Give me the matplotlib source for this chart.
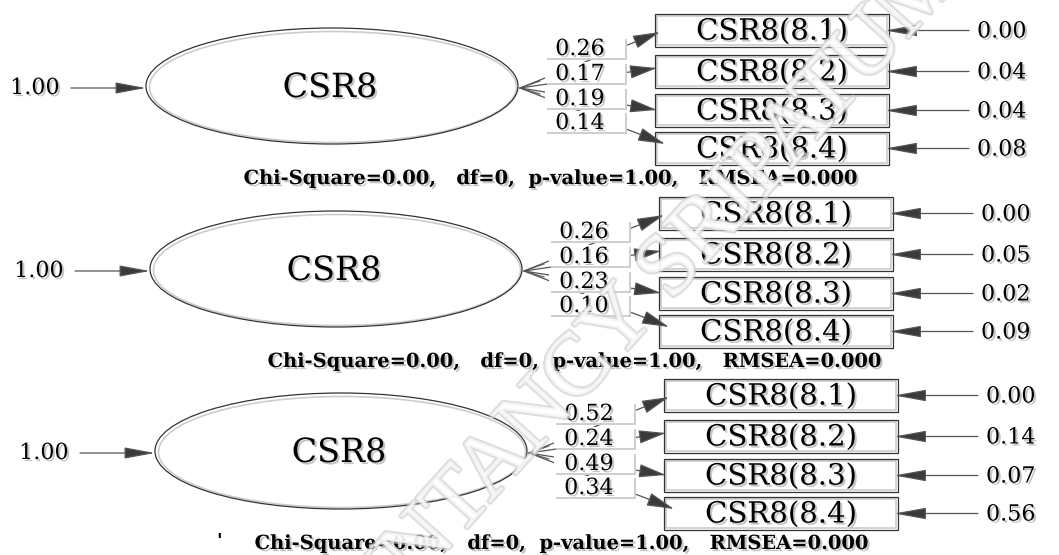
import matplotlib
matplotlib.use('Agg')
import matplotlib.pyplot as plt
import matplotlib.patheffects as pe
from matplotlib.patches import Ellipse, Rectangle, FancyArrowPatch

# values
latent = 'CSR8'
items = ['CSR8(8.1)', 'CSR8(8.2)', 'CSR8(8.3)', 'CSR8(8.4)']
latent_var = [1.00, 1.00, 1.00]
loadings_1 = [0.26, 0.17, 0.19, 0.14]
loadings_2 = [0.26, 0.16, 0.23, 0.10]
loadings_3 = [0.52, 0.24, 0.49, 0.34]
errors_1 = [0.00, 0.04, 0.04, 0.08]
errors_2 = [0.00, 0.05, 0.02, 0.09]
errors_3 = [0.00, 0.14, 0.07, 0.56]
fit_text = 'Chi-Square=0.00,   df=0,  p-value=1.00,   RMSEA=0.000'
watermark = 'ACCOUNTANCY SRIPATUM'

loadings = [loadings_1, loadings_2, loadings_3]
errors = [errors_1, errors_2, errors_3]

# layout in pixels (panel 1), shifted for the other panels
panel_dy = [0, 183, 365]
panel_dx = [0, 4, 9]
chi_x = [551, 575, 562]
ell_cx, ell_cy, ell_w, ell_h = 332, 86, 372, 116
box_x, box_w, box_h = 655, 234, 33
box_tops = [14, 55, 94, 132]
tip_dx = [5, 2, 2, 10]
tip_y = [32, 68, 110, 144]
lab_x = 580
lab_y = [49, 74, 99, 123]

serif = 'DejaVu Serif'
line_c = '#555555'
head_c = '#3a3a3a'
shadow = [pe.SimplePatchShadow(offset=(1.5, -1.5), shadow_rgbFace='#c4c4c4', alpha=1), pe.Normal()]

fig = plt.figure(figsize=(10.59, 5.55), dpi=100)
ax = fig.add_axes([0, 0, 1, 1])
ax.set_xlim(0, 1059)
ax.set_ylim(555, 0)
ax.axis('off')


def arrow(x0, y0, x1, y1, hl=1.8, hw=0.4, z=2):
    a = FancyArrowPatch((x0, y0), (x1, y1),
                        arrowstyle='-|>,head_length={},head_width={}'.format(hl, hw),
                        mutation_scale=10, shrinkA=0, shrinkB=0,
                        color=line_c, lw=0.9, zorder=z)
    a.set_facecolor(head_c)
    ax.add_patch(a)


for p in range(3):
    dx, dy = panel_dx[p], panel_dy[p]
    cx, cy = ell_cx + dx, ell_cy + dy
    left, right = cx - ell_w / 2, cx + ell_w / 2

    # latent variable
    ax.add_patch(Ellipse((cx + 1, cy + 1), ell_w - 5, ell_h - 5, fill=False, ec='#cccccc', lw=1.2))
    ax.add_patch(Ellipse((cx, cy), ell_w, ell_h, fill=False, ec='#333333', lw=0.9))
    ax.text(cx - 2, cy + 2, latent, fontsize=24, family=serif, ha='center', va='center', path_effects=shadow)
    ax.text(left - 111, cy + 2, '%.2f' % latent_var[p], fontsize=16, family=serif,
            ha='center', va='center', path_effects=shadow)
    arrow(left - 75, cy + 2, left, cy + 2, hl=1.9, hw=0.35)

    # small open head at the ellipse
    ax.plot([right + 22, right + 2, right + 22], [cy - 5, cy + 2, cy + 8], color=line_c, lw=0.8)

    for i in range(4):
        top = box_tops[i] + dy
        bx = box_x + dx
        yc = top + box_h / 2
        ax.add_patch(Rectangle((bx + 2, top + 2), box_w - 4, box_h - 4, fill=False, ec='#cccccc', lw=1.2))
        ax.add_patch(Rectangle((bx, top), box_w, box_h, fill=False, ec='#333333', lw=0.9))
        ax.text(bx + box_w / 2, yc + 1, items[i], fontsize=21, family=serif,
                ha='center', va='center', path_effects=shadow)

        # error variance
        arrow(bx + box_w + 80, yc, bx + box_w - 4, yc, hl=2.0, hw=0.36)
        ax.text(bx + box_w + 88, yc + 1, '%.2f' % errors[p][i], fontsize=16, family=serif,
                ha='left', va='center', path_effects=shadow)

        # loading
        arrow(right + 2, cy + 2, bx + tip_dx[i], tip_y[i] + dy, hl=1.7, hw=0.42, z=2)
        lx, ly = lab_x + dx, lab_y[i] + dy
        ax.add_patch(Rectangle((lx - 33, ly - 10), 80, 21, fc='#cfcfcf', ec='none', zorder=3))
        ax.add_patch(Rectangle((lx - 35, ly - 12), 80, 21, fc='white', ec='none', zorder=3))
        ax.text(lx, ly, '%.2f' % loadings[p][i], fontsize=16, family=serif,
                ha='center', va='center', zorder=4, path_effects=shadow)

    ax.text(chi_x[p], 179 + dy, fit_text, fontsize=14, family=serif, fontweight='bold',
            ha='center', va='center', path_effects=shadow)

ax.text(219, 542, "'", fontsize=13, family=serif, fontweight='bold', ha='center', va='center')

# faint diagonal watermark
ax.text(191, 803, watermark, fontsize=64, family='Liberation Serif', rotation=48,
        rotation_mode='anchor', ha='left', va='center', color='white', alpha=0.7, zorder=10,
        path_effects=[pe.Stroke(linewidth=3, foreground='#d0d0d0'), pe.Normal()])

fig.savefig('out.png', dpi=100)
